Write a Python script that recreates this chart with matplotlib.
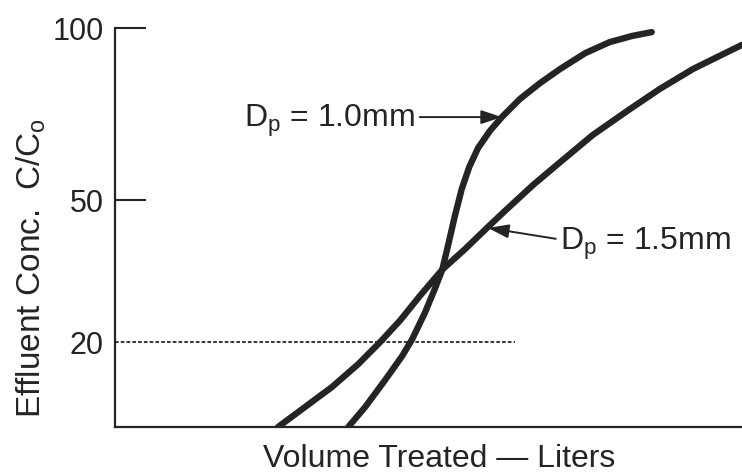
import numpy as np
import matplotlib
matplotlib.use("Agg")
import matplotlib.pyplot as plt

plt.rcParams['font.family'] = 'Liberation Sans'
plt.rcParams['mathtext.fontset'] = 'custom'
plt.rcParams['mathtext.rm'] = 'Liberation Sans'
plt.rcParams['mathtext.it'] = 'Liberation Sans:italic'
plt.rcParams['mathtext.bf'] = 'Liberation Sans:bold'

# Breakthrough curves (volume in arbitrary units 0-100, conc in %)
vol_15 = [26.0, 29.2, 34.6, 38.8, 42.3, 45.5, 48.6, 52.2, 55.8, 59.8,
          62.2, 66.7, 71.0, 76.2, 81.7, 86.9, 92.2, 100.0]
conc_15 = [0.0, 3.5, 9.4, 14.8, 20.0, 24.6, 29.7, 35.3, 39.6, 44.7,
           47.7, 54.4, 61.0, 68.9, 75.9, 82.3, 88.1, 95.1]

vol_10 = [37.2, 39.9, 43.1, 45.8, 47.4, 49.4, 51.0, 52.2, 53.1, 54.2,
          55.3, 56.5, 57.9, 59.8, 61.7, 64.6, 67.8, 71.0, 75.0, 78.9,
          82.5, 85.6]
conc_10 = [0.0, 4.7, 11.1, 16.7, 20.6, 26.1, 31.2, 35.3, 40.3, 46.6,
           53.2, 59.6, 65.1, 70.1, 74.1, 79.4, 84.0, 88.1, 92.7, 95.9,
           97.7, 98.8]

# reference level
ref_conc = 20
ref_vol_end = 63.8

# the printed y axis is not linear: tick values and their relative heights
tick_vals = [0, 20, 50, 100]
tick_pos = [0, 85, 227, 399]

def fwd(c):
    return np.interp(c, tick_vals, tick_pos)

def inv(p):
    return np.interp(p, tick_pos, tick_vals)

ink = '#242424'

fig = plt.figure(figsize=(7.42, 4.73), dpi=100)
ax = fig.add_axes([115 / 742, 46 / 473, 627 / 742, 399 / 473])
ax.set_yscale('function', functions=(fwd, inv))

for v, c in [(vol_15, conc_15), (vol_10, conc_10)]:
    ax.plot(v, c, color=ink, lw=4.6, solid_capstyle='round',
            solid_joinstyle='round')
ax.plot([0, ref_vol_end], [ref_conc, ref_conc], color=ink, lw=1.3,
        ls=(0, (2, 1.2)))

ax.set_xlim(0, 100)
ax.set_ylim(0, 100)

for s in ['top', 'right']:
    ax.spines[s].set_visible(False)
for s in ['left', 'bottom']:
    ax.spines[s].set_linewidth(1.6)
    ax.spines[s].set_color(ink)

ax.set_xticks([])
ax.set_yticks([50, 100])
ax.set_yticks([20], minor=True)
ax.set_yticklabels(['50', '100'])
ax.set_yticklabels(['20'], minor=True)
ax.tick_params(axis='y', which='major', direction='in', length=22, width=1.5,
               color=ink, labelsize=22, pad=8, labelcolor=ink)
ax.tick_params(axis='y', which='minor', length=0, labelsize=22, pad=8,
               labelcolor=ink)

ax.set_xlabel('Volume Treated \u2014 Liters', fontsize=23, color=ink,
              va='baseline')
ax.xaxis.set_label_coords(0.517, -0.100)
ax.set_ylabel('Effluent Conc.  C/C$_\\mathrm{o}$', fontsize=24, color=ink,
              va='baseline')
ax.yaxis.set_label_coords(-0.118, 0.398)

arrow = dict(arrowstyle='-|>,head_length=0.9,head_width=0.3', color=ink,
             lw=1.4, mutation_scale=14, shrinkA=0, shrinkB=0)

ax.text(47.8, 71.2, 'D$_\\mathrm{p}$ = 1.0mm', fontsize=23, color=ink,
        ha='right', va='baseline')
ax.annotate('', xy=(61.7, 74.1), xytext=(48.6, 74.1), arrowprops=arrow)

ax.text(71.0, 39.4, 'D$_\\mathrm{p}$ = 1.5mm', fontsize=23, color=ink,
        ha='left', va='baseline')
ax.annotate('', xy=(59.5, 44.1), xytext=(70.3, 41.8), arrowprops=arrow)

fig.savefig('out.png', dpi=100)
